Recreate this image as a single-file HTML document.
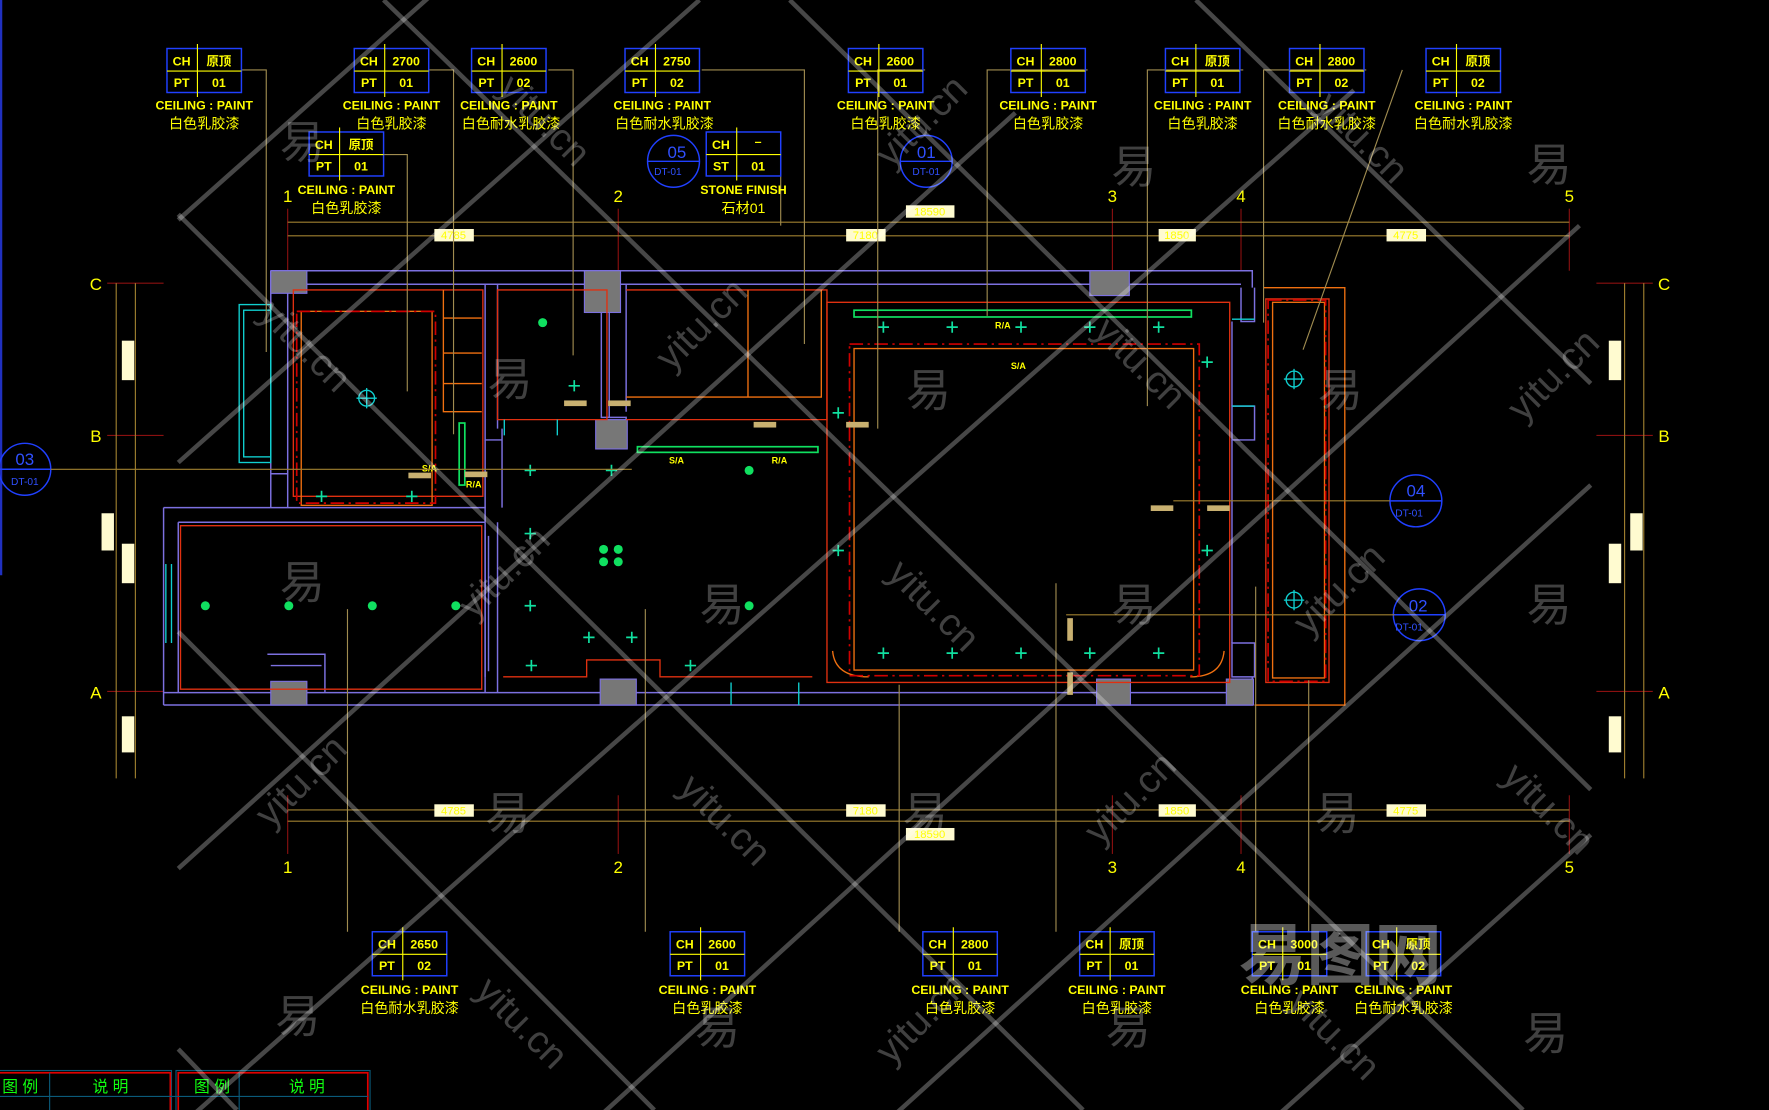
<!DOCTYPE html>
<html><head><meta charset="utf-8"><style>
html,body{margin:0;padding:0;background:#000;}
svg{display:block}
text{font-family:"Liberation Sans Narrow","Liberation Sans","Noto Sans CJK SC",sans-serif;}
.t{fill:#ffff00;font-size:11px;font-weight:bold;text-anchor:middle}
.c{fill:#ffff00;font-size:12.5px;text-anchor:middle;font-family:"Liberation Sans","Noto Sans CJK SC",sans-serif}
.ld{stroke:#a08c50;fill:none;stroke-width:1}
.w{stroke:#7c70e0;fill:none;stroke-width:1.3}
.r{stroke:#e03010;fill:none;stroke-width:1.2}
.o{stroke:#f07010;fill:none;stroke-width:1.2}
.rd{stroke:#d00000;fill:none;stroke-width:1.5;stroke-dasharray:12 4 2 4}
.dm{stroke:#a08030;fill:none;stroke-width:1}
.ax{fill:none;stroke:#8a1010;stroke-width:1}
.an{fill:#ffff00;font-size:15px;text-anchor:middle;font-family:"Liberation Serif",serif}
.g{fill:#777;stroke:#7c70e0;stroke-width:1}
.cy{stroke:#10d0d0;fill:none;stroke-width:1.2}
.gr{stroke:#10e060;fill:none;stroke-width:1.5}
.wm{stroke:#ffffff;stroke-opacity:.28;stroke-width:4}
.wt{fill:#ffffff;fill-opacity:.25;font-size:40px;font-family:"Noto Sans CJK SC",sans-serif}
.wy{fill:#ffffff;fill-opacity:.25;font-size:34px}
.dl{fill:#fffbd0;}
.dt{fill:#ffff00;font-size:10px;text-anchor:middle}
.bl{stroke:#2040ff;fill:none;stroke-width:1.3}
.bt{fill:#3050ff;font-size:15px;text-anchor:middle}
.bs{fill:#3050ff;font-size:9px;text-anchor:middle}
</style></head><body>
<svg width="1769" height="1110" viewBox="0 0 1568 984" preserveAspectRatio="none" xmlns="http://www.w3.org/2000/svg">
<rect width="1568" height="984" fill="#000"/>
<line x1="1" y1="0" x2="1" y2="510" stroke="#2030c0" stroke-width="2"/>

<!-- axis lines -->
<g class="ax">
<line x1="255" y1="185" x2="255" y2="240"/><line x1="548" y1="185" x2="548" y2="240"/><line x1="986" y1="185" x2="986" y2="240"/><line x1="1100" y1="185" x2="1100" y2="240"/><line x1="1391" y1="185" x2="1391" y2="240"/>
<line x1="255" y1="705" x2="255" y2="757"/><line x1="548" y1="705" x2="548" y2="757"/><line x1="986" y1="705" x2="986" y2="757"/><line x1="1100" y1="705" x2="1100" y2="757"/><line x1="1391" y1="705" x2="1391" y2="757"/>
<line x1="95" y1="251" x2="145" y2="251"/><line x1="95" y1="386" x2="145" y2="386"/><line x1="95" y1="613" x2="145" y2="613"/>
<line x1="1415" y1="251" x2="1465" y2="251"/><line x1="1415" y1="386" x2="1465" y2="386"/><line x1="1415" y1="613" x2="1465" y2="613"/>
</g>
<g class="an">
<text x="255" y="179">1</text><text x="548" y="179">2</text><text x="986" y="179">3</text><text x="1100" y="179">4</text><text x="1391" y="179">5</text>
<text x="255" y="774">1</text><text x="548" y="774">2</text><text x="986" y="774">3</text><text x="1100" y="774">4</text><text x="1391" y="774">5</text>
<text x="85" y="257">C</text><text x="85" y="392">B</text><text x="85" y="619">A</text>
<text x="1475" y="257">C</text><text x="1475" y="392">B</text><text x="1475" y="619">A</text>
</g>
<!-- dim lines -->
<g class="dm">
<line x1="255" y1="197" x2="1391" y2="197"/><line x1="255" y1="209" x2="1391" y2="209"/>
<line x1="255" y1="718" x2="1391" y2="718"/><line x1="255" y1="728" x2="1391" y2="728"/>
<line x1="103" y1="251" x2="103" y2="690"/><line x1="120" y1="251" x2="120" y2="690"/>
<line x1="1440" y1="251" x2="1440" y2="690"/><line x1="1457" y1="251" x2="1457" y2="690"/>
</g>
<g class="dl">
<rect x="385" y="203" width="35" height="11"/><rect x="750" y="203" width="35" height="11"/><rect x="1027" y="203" width="33" height="11"/><rect x="1229" y="203" width="35" height="11"/><rect x="803" y="182" width="43" height="11"/>
<rect x="385" y="713" width="35" height="11"/><rect x="750" y="713" width="35" height="11"/><rect x="1027" y="713" width="33" height="11"/><rect x="1229" y="713" width="35" height="11"/><rect x="803" y="734" width="43" height="11"/>
<rect x="108" y="302" width="11" height="35"/><rect x="90" y="455" width="11" height="33"/><rect x="108" y="482" width="11" height="35"/><rect x="108" y="635" width="11" height="32"/>
<rect x="1426" y="302" width="11" height="35"/><rect x="1445" y="455" width="11" height="33"/><rect x="1426" y="482" width="11" height="35"/><rect x="1426" y="635" width="11" height="32"/>
</g>
<g class="dt">
<text x="402" y="212">4785</text><text x="767" y="212">7180</text><text x="1043" y="212">1850</text><text x="1246" y="212">4775</text><text x="824" y="191">18590</text>
<text x="402" y="722">4785</text><text x="767" y="722">7180</text><text x="1043" y="722">1850</text><text x="1246" y="722">4775</text><text x="824" y="743">18590</text>
</g>

<!-- walls -->
<g class="w">
<path d="M240 240 H1110 V255 M240 252 H1100"/>
<path d="M145 614 H1110 M145 625 H1110 V600"/>
<path d="M145 450 V625 M158 463 V614 M145 450 H430 V463 M158 463 H430"/>
<path d="M240 240 V420 H255 V450 M255 252 V420 M240 420 V450"/>
<path d="M430 252 V390 H445 M430 463 V614 M441 463 V614 M441 252 V380"/>
<path d="M533 252 V370 H555 V395 M540 252 V370 M555 365 V252"/>
<path d="M1100 255 V285 H1112 V255 M1092 360 H1112 V390 H1092 Z M1092 570 H1112 V600 H1092 Z"/>
<path d="M1092 285 V360 M1092 390 V570"/>
<path d="M430 390 V450 M445 380 V450 M237 580 H288 V614 M240 590 H285"/>
<path d="M430 470 V600 M433 475 V595"/>
</g>
<g class="g">
<rect x="240" y="240" width="32" height="20"/><rect x="518" y="240" width="32" height="37"/><rect x="528" y="372" width="28" height="26"/>
<rect x="966" y="240" width="35" height="22"/><rect x="240" y="604" width="32" height="21"/><rect x="532" y="602" width="32" height="23"/>
<rect x="972" y="602" width="30" height="23"/><rect x="1087" y="602" width="24" height="23"/>
</g>
<!-- red/orange -->
<g class="r">
<path d="M260 257 H428 V440 H260 Z"/>
<path d="M160 466 H427 V611 H160 Z"/>
<path d="M441 257 H538 V372 H441 Z"/>
<path d="M555 257 H733 V372 H555"/>
<path d="M733 268 H1090 V605 H733 Z"/>
<path d="M1122 265 H1178 V605 H1122 Z"/>
<path d="M446 600 H520 V585 H585 V600 H720"/>
</g>
<g class="o">
<rect x="267" y="282" width="116" height="172" transform="translate(0,-6)"/>
<path d="M393 257 V365 H427 M393 282 H427 M393 313 H427 M393 340 H427"/>
<path d="M663 257 V352 H555 M663 352 H728 V257"/>
<rect x="757" y="309" width="301" height="285"/>
<rect x="1128" y="268" width="46" height="333"/>
<path d="M1120 255 H1192 V625 H1112"/>
<path d="M738 577 Q740 600 770 600 M1085 577 Q1083 600 1055 600"/>
</g>
<g class="rd">
<rect x="263" y="276" width="123" height="170"/>
<rect x="753" y="305" width="310" height="294"/>
<rect x="1124" y="266" width="51" height="338"/>
</g>
<!-- fixtures -->
<g class="cy">
<rect x="212" y="270" width="28" height="140"/><rect x="216" y="275" width="24" height="130"/>
<line x1="147" y1="500" x2="147" y2="570"/><line x1="152" y1="500" x2="152" y2="570"/>
<circle cx="325" cy="353" r="7"/><line x1="316" y1="353" x2="334" y2="353"/><line x1="325" y1="344" x2="325" y2="362"/>
<circle cx="1147" cy="336" r="7"/><line x1="1138" y1="336" x2="1156" y2="336"/><line x1="1147" y1="327" x2="1147" y2="345"/>
<circle cx="1147" cy="532" r="7"/><line x1="1138" y1="532" x2="1156" y2="532"/><line x1="1147" y1="523" x2="1147" y2="541"/>
<path d="M447 372 V386 M494 372 V386 M1092 283 H1112 M1092 360 H1112 M648 605 V625 M708 605 V625"/>
</g>
<g class="gr">
<rect x="757" y="275" width="299" height="6"/>
<rect x="565" y="396" width="160" height="5"/>
<rect x="407" y="375" width="5" height="55"/>
</g>
<g fill="#10e060">
<circle cx="182" cy="537" r="4"/><circle cx="256" cy="537" r="4"/><circle cx="330" cy="537" r="4"/><circle cx="404" cy="537" r="4"/>
<circle cx="481" cy="286" r="4"/><circle cx="664" cy="417" r="4"/><circle cx="664" cy="537" r="4"/>
<circle cx="535" cy="487" r="4"/><circle cx="548" cy="487" r="4"/><circle cx="535" cy="498" r="4"/><circle cx="548" cy="498" r="4"/>
</g>
<g stroke="#10e0a0" stroke-width="1.5">
<path d="M280 440h10M285 435v10M360 440h10M365 435v10M465 417h10M470 412v10M537 417h10M542 412v10M465 473h10M470 468v10M465 537h10M470 532v10M466 590h10M471 585v10M517 565h10M522 560v10M555 565h10M560 560v10M607 590h10M612 585v10M504 342h10M509 337v10"/>
<path d="M778 290h10M783 285v10M839 290h10M844 285v10M900 290h10M905 285v10M961 290h10M966 285v10M1022 290h10M1027 285v10M1065 321h10M1070 316v10M738 366h10M743 361v10M738 488h10M743 483v10M1065 488h10M1070 483v10M778 579h10M783 574v10M839 579h10M844 574v10M900 579h10M905 574v10M961 579h10M966 574v10M1022 579h10M1027 574v10"/>
</g>
<g fill="#c8b070">
<rect x="362" y="419" width="20" height="5"/><rect x="412" y="418" width="20" height="5"/><rect x="500" y="355" width="20" height="5"/><rect x="539" y="355" width="20" height="5"/>
<rect x="668" y="374" width="20" height="5"/><rect x="750" y="374" width="20" height="5"/><rect x="1020" y="448" width="20" height="5"/><rect x="1070" y="448" width="20" height="5"/>
<rect x="946" y="548" width="5" height="20"/><rect x="946" y="596" width="5" height="20"/>
</g>
<g fill="#ffff00" font-size="8" font-weight="bold">
<text x="413" y="432">R/A</text><text x="593" y="411">S/A</text><text x="684" y="411">R/A</text><text x="882" y="291">R/A</text><text x="896" y="327">S/A</text><text x="374" y="418">S/A</text>
</g>

<!-- bubbles -->
<g class="bl">
<circle cx="22" cy="416" r="23"/><line x1="0" y1="416" x2="45" y2="416"/>
<circle cx="597" cy="143" r="23"/><line x1="574" y1="143" x2="620" y2="143"/>
<circle cx="821" cy="143" r="23"/><line x1="798" y1="143" x2="844" y2="143"/>
<circle cx="1255" cy="444" r="23"/><line x1="1232" y1="444" x2="1278" y2="444"/>
<circle cx="1258" cy="545" r="23"/><line x1="1235" y1="545" x2="1281" y2="545"/>
</g>
<g>
<text class="bt" x="22" y="412">03</text><text class="bs" x="22" y="430">DT-01</text>
<text class="bt" x="600" y="140">05</text><text class="bs" x="592" y="155">DT-01</text>
<text class="bt" x="821" y="140">01</text><text class="bs" x="821" y="155">DT-01</text>
<text class="bt" x="1255" y="440">04</text><text class="bs" x="1249" y="458">DT-01</text>
<text class="bt" x="1257" y="542">02</text><text class="bs" x="1249" y="559">DT-01</text>
</g>
<g class="dm"><line x1="45" y1="416" x2="560" y2="416"/><line x1="1040" y1="444" x2="1232" y2="444"/><line x1="945" y1="545" x2="1236" y2="545"/></g>

<!-- leader lines -->
<g class="ld">
<path d="M214 62 H236 V312 M380 62 H402 V385 M486 62 H508 V315 M622 62 H713 V305 M820 62 H778 V380 M964 62 H875 V280 M1102 62 H1017 V360 M1211 62 H1120 V286 M1243 62 L1155 310"/>
<path d="M338 137 H361 V347 M692 137 V200"/>
<path d="M308 826 V540 M572 826 V540 M797 826 V607 M936 826 V517 M1113 826 V520 M1160 826 V603"/>
</g>

<!-- tags -->
<g id="tags">
<g transform="translate(148,43)"><rect class="bl" width="66" height="39"/><line x1="0" y1="20" x2="66" y2="20" stroke="#ff0" /><line x1="27" y1="-4" x2="27" y2="43" stroke="#ff0"/><text class="t" x="13" y="15">CH</text><text class="t" x="46" y="15">原顶</text><text class="t" x="13" y="34">PT</text><text class="t" x="46" y="34">01</text><text class="t" x="33" y="54">CEILING : PAINT</text><text class="c" x="33" y="71">白色乳胶漆</text></g>
<g transform="translate(314,43)"><rect class="bl" width="66" height="39"/><line x1="0" y1="20" x2="66" y2="20" stroke="#ff0"/><line x1="27" y1="-4" x2="27" y2="43" stroke="#ff0"/><text class="t" x="13" y="15">CH</text><text class="t" x="46" y="15">2700</text><text class="t" x="13" y="34">PT</text><text class="t" x="46" y="34">01</text><text class="t" x="33" y="54">CEILING : PAINT</text><text class="c" x="33" y="71">白色乳胶漆</text></g>
<g transform="translate(418,43)"><rect class="bl" width="66" height="39"/><line x1="0" y1="20" x2="66" y2="20" stroke="#ff0"/><line x1="27" y1="-4" x2="27" y2="43" stroke="#ff0"/><text class="t" x="13" y="15">CH</text><text class="t" x="46" y="15">2600</text><text class="t" x="13" y="34">PT</text><text class="t" x="46" y="34">02</text><text class="t" x="33" y="54">CEILING : PAINT</text><text class="c" x="35" y="71">白色耐水乳胶漆</text></g>
<g transform="translate(554,43)"><rect class="bl" width="66" height="39"/><line x1="0" y1="20" x2="66" y2="20" stroke="#ff0"/><line x1="27" y1="-4" x2="27" y2="43" stroke="#ff0"/><text class="t" x="13" y="15">CH</text><text class="t" x="46" y="15">2750</text><text class="t" x="13" y="34">PT</text><text class="t" x="46" y="34">02</text><text class="t" x="33" y="54">CEILING : PAINT</text><text class="c" x="35" y="71">白色耐水乳胶漆</text></g>
<g transform="translate(752,43)"><rect class="bl" width="66" height="39"/><line x1="0" y1="20" x2="66" y2="20" stroke="#ff0"/><line x1="27" y1="-4" x2="27" y2="43" stroke="#ff0"/><text class="t" x="13" y="15">CH</text><text class="t" x="46" y="15">2600</text><text class="t" x="13" y="34">PT</text><text class="t" x="46" y="34">01</text><text class="t" x="33" y="54">CEILING : PAINT</text><text class="c" x="33" y="71">白色乳胶漆</text></g>
<g transform="translate(896,43)"><rect class="bl" width="66" height="39"/><line x1="0" y1="20" x2="66" y2="20" stroke="#ff0"/><line x1="27" y1="-4" x2="27" y2="43" stroke="#ff0"/><text class="t" x="13" y="15">CH</text><text class="t" x="46" y="15">2800</text><text class="t" x="13" y="34">PT</text><text class="t" x="46" y="34">01</text><text class="t" x="33" y="54">CEILING : PAINT</text><text class="c" x="33" y="71">白色乳胶漆</text></g>
<g transform="translate(1033,43)"><rect class="bl" width="66" height="39"/><line x1="0" y1="20" x2="66" y2="20" stroke="#ff0"/><line x1="27" y1="-4" x2="27" y2="43" stroke="#ff0"/><text class="t" x="13" y="15">CH</text><text class="t" x="46" y="15">原顶</text><text class="t" x="13" y="34">PT</text><text class="t" x="46" y="34">01</text><text class="t" x="33" y="54">CEILING : PAINT</text><text class="c" x="33" y="71">白色乳胶漆</text></g>
<g transform="translate(1143,43)"><rect class="bl" width="66" height="39"/><line x1="0" y1="20" x2="66" y2="20" stroke="#ff0"/><line x1="27" y1="-4" x2="27" y2="43" stroke="#ff0"/><text class="t" x="13" y="15">CH</text><text class="t" x="46" y="15">2800</text><text class="t" x="13" y="34">PT</text><text class="t" x="46" y="34">02</text><text class="t" x="33" y="54">CEILING : PAINT</text><text class="c" x="33" y="71">白色耐水乳胶漆</text></g>
<g transform="translate(1264,43)"><rect class="bl" width="66" height="39"/><line x1="0" y1="20" x2="66" y2="20" stroke="#ff0"/><line x1="27" y1="-4" x2="27" y2="43" stroke="#ff0"/><text class="t" x="13" y="15">CH</text><text class="t" x="46" y="15">原顶</text><text class="t" x="13" y="34">PT</text><text class="t" x="46" y="34">02</text><text class="t" x="33" y="54">CEILING : PAINT</text><text class="c" x="33" y="71">白色耐水乳胶漆</text></g>
<g transform="translate(274,117)"><rect class="bl" width="66" height="39"/><line x1="0" y1="20" x2="66" y2="20" stroke="#ff0"/><line x1="27" y1="-4" x2="27" y2="43" stroke="#ff0"/><text class="t" x="13" y="15">CH</text><text class="t" x="46" y="15">原顶</text><text class="t" x="13" y="34">PT</text><text class="t" x="46" y="34">01</text><text class="t" x="33" y="55">CEILING : PAINT</text><text class="c" x="33" y="72">白色乳胶漆</text></g>
<g transform="translate(626,117)"><rect class="bl" width="66" height="39"/><line x1="0" y1="20" x2="66" y2="20" stroke="#ff0"/><line x1="27" y1="-4" x2="27" y2="43" stroke="#ff0"/><text class="t" x="13" y="15">CH</text><text class="t" x="46" y="12">–</text><text class="t" x="13" y="34">ST</text><text class="t" x="46" y="34">01</text><text class="t" x="33" y="55">STONE FINISH</text><text class="c" x="33" y="72">石材01</text></g>

<g transform="translate(330,826)"><rect class="bl" width="66" height="39"/><line x1="0" y1="20" x2="66" y2="20" stroke="#ff0"/><line x1="27" y1="-4" x2="27" y2="43" stroke="#ff0"/><text class="t" x="13" y="15">CH</text><text class="t" x="46" y="15">2650</text><text class="t" x="13" y="34">PT</text><text class="t" x="46" y="34">02</text><text class="t" x="33" y="55">CEILING : PAINT</text><text class="c" x="33" y="72">白色耐水乳胶漆</text></g>
<g transform="translate(594,826)"><rect class="bl" width="66" height="39"/><line x1="0" y1="20" x2="66" y2="20" stroke="#ff0"/><line x1="27" y1="-4" x2="27" y2="43" stroke="#ff0"/><text class="t" x="13" y="15">CH</text><text class="t" x="46" y="15">2600</text><text class="t" x="13" y="34">PT</text><text class="t" x="46" y="34">01</text><text class="t" x="33" y="55">CEILING : PAINT</text><text class="c" x="33" y="72">白色乳胶漆</text></g>
<g transform="translate(818,826)"><rect class="bl" width="66" height="39"/><line x1="0" y1="20" x2="66" y2="20" stroke="#ff0"/><line x1="27" y1="-4" x2="27" y2="43" stroke="#ff0"/><text class="t" x="13" y="15">CH</text><text class="t" x="46" y="15">2800</text><text class="t" x="13" y="34">PT</text><text class="t" x="46" y="34">01</text><text class="t" x="33" y="55">CEILING : PAINT</text><text class="c" x="33" y="72">白色乳胶漆</text></g>
<g transform="translate(957,826)"><rect class="bl" width="66" height="39"/><line x1="0" y1="20" x2="66" y2="20" stroke="#ff0"/><line x1="27" y1="-4" x2="27" y2="43" stroke="#ff0"/><text class="t" x="13" y="15">CH</text><text class="t" x="46" y="15">原顶</text><text class="t" x="13" y="34">PT</text><text class="t" x="46" y="34">01</text><text class="t" x="33" y="55">CEILING : PAINT</text><text class="c" x="33" y="72">白色乳胶漆</text></g>
<g transform="translate(1110,826)"><rect class="bl" width="66" height="39"/><line x1="0" y1="20" x2="66" y2="20" stroke="#ff0"/><line x1="27" y1="-4" x2="27" y2="43" stroke="#ff0"/><text class="t" x="13" y="15">CH</text><text class="t" x="46" y="15">3000</text><text class="t" x="13" y="34">PT</text><text class="t" x="46" y="34">01</text><text class="t" x="33" y="55">CEILING : PAINT</text><text class="c" x="33" y="72">白色乳胶漆</text></g>
<g transform="translate(1211,826)"><rect class="bl" width="66" height="39"/><line x1="0" y1="20" x2="66" y2="20" stroke="#ff0"/><line x1="27" y1="-4" x2="27" y2="43" stroke="#ff0"/><text class="t" x="13" y="15">CH</text><text class="t" x="46" y="15">原顶</text><text class="t" x="13" y="34">PT</text><text class="t" x="46" y="34">02</text><text class="t" x="33" y="55">CEILING : PAINT</text><text class="c" x="33" y="72">白色耐水乳胶漆</text></g>
</g>

<!-- legend -->
<g>
<rect x="-2" y="949" width="154" height="40" fill="none" stroke="#0a5a7a"/><rect x="-2" y="951" width="153" height="40" fill="none" stroke="#e00000" stroke-width="1.5"/>
<rect x="156" y="949" width="172" height="40" fill="none" stroke="#0a5a7a"/><rect x="158" y="951" width="168" height="40" fill="none" stroke="#e00000" stroke-width="1.5"/>
<line x1="0" y1="972" x2="326" y2="972" stroke="#0a5a7a"/>
<line x1="44" y1="951" x2="44" y2="984" stroke="#0a5a7a"/><line x1="212" y1="951" x2="212" y2="984" stroke="#0a5a7a"/>
<g fill="#10ff10" font-size="14" font-family="Noto Sans CJK SC,sans-serif"><text x="2" y="968">图 例</text><text x="82" y="968">说  明</text><text x="172" y="968">图 例</text><text x="256" y="968">说  明</text></g>
</g>

<!-- watermarks -->
<g class="wm">
<line x1="158" y1="195" x2="400" y2="-20"/><line x1="158" y1="410" x2="620" y2="0"/><line x1="158" y1="770" x2="900" y2="100"/><line x1="158" y1="1000" x2="1200" y2="80"/>
<line x1="520" y1="1000" x2="1400" y2="200"/><line x1="780" y1="1000" x2="1410" y2="430"/><line x1="1120" y1="1000" x2="1410" y2="740"/>
<line x1="700" y1="0" x2="1410" y2="700"/><line x1="1060" y1="0" x2="1410" y2="340"/><line x1="340" y1="0" x2="1350" y2="984"/>
<line x1="158" y1="190" x2="960" y2="984"/><line x1="158" y1="560" x2="580" y2="984"/><line x1="158" y1="930" x2="210" y2="984"/>
</g>
<g class="wt"><text x="248" y="140">易</text><text x="432" y="350">易</text><text x="803" y="360">易</text><text x="985" y="162">易</text><text x="1168" y="360">易</text><text x="1353" y="160">易</text>
<text x="248" y="530">易</text><text x="620" y="550">易</text><text x="985" y="550">易</text><text x="1353" y="550">易</text>
<text x="430" y="735">易</text><text x="800" y="735">易</text><text x="1165" y="735">易</text><text x="244" y="915">易</text><text x="616" y="925">易</text><text x="980" y="925">易</text><text x="1350" y="930">易</text></g>
<g class="wy">
<text transform="translate(228,280) rotate(45)">yitu.cn</text><text transform="translate(595,330) rotate(-45)">yitu.cn</text><text transform="translate(968,295) rotate(45)">yitu.cn</text><text transform="translate(1350,375) rotate(-45)">yitu.cn</text>
<text transform="translate(440,80) rotate(45)">yitu.cn</text><text transform="translate(1165,95) rotate(45)">yitu.cn</text><text transform="translate(790,150) rotate(-45)">yitu.cn</text>
<text transform="translate(420,550) rotate(-45)">yitu.cn</text><text transform="translate(785,510) rotate(45)">yitu.cn</text><text transform="translate(1160,565) rotate(-45)">yitu.cn</text>
<text transform="translate(240,735) rotate(-45)">yitu.cn</text><text transform="translate(600,700) rotate(45)">yitu.cn</text><text transform="translate(975,750) rotate(-45)">yitu.cn</text><text transform="translate(1330,690) rotate(45)">yitu.cn</text>
<text transform="translate(420,880) rotate(45)">yitu.cn</text><text transform="translate(790,945) rotate(-45)">yitu.cn</text><text transform="translate(1140,890) rotate(45)">yitu.cn</text>
</g>
<text x="1098" y="868" fill="#fff" fill-opacity=".35" font-size="60" font-weight="bold" font-family="Noto Sans CJK SC,sans-serif">易图网</text>
</svg>
</body></html>
